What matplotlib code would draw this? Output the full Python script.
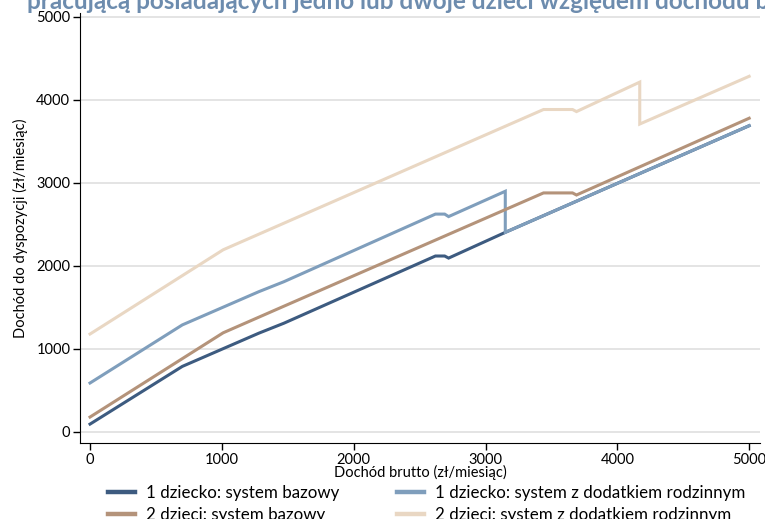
import matplotlib
matplotlib.use("Agg")
import matplotlib.pyplot as plt

plt.rcParams['font.family'] = ['Lato', 'DejaVu Sans']

# gross income (zl/month) vs disposable income
x_1b = [0, 700, 1280, 1470, 2620, 2690, 2720, 3150, 5000]
y_1b = [95, 790, 1190, 1310, 2120, 2120, 2095, 2405, 3690]

x_1d = [0, 700, 1280, 1470, 2620, 2690, 2720, 3150, 3150, 5000]
y_1d = [590, 1290, 1690, 1810, 2625, 2625, 2595, 2900, 2405, 3690]

x_2b = [0, 1010, 1440, 3440, 3660, 3690, 5000]
y_2b = [180, 1195, 1494, 2880, 2880, 2855, 3780]

x_2d = [0, 1010, 1440, 3440, 3660, 3690, 4170, 4170, 5000]
y_2d = [1180, 2195, 2494, 3885, 3885, 3860, 4215, 3710, 4285]

labels = ['1 dziecko: system bazowy',
          '1 dziecko: system z dodatkiem rodzinnym',
          '2 dzieci: system bazowy',
          '2 dzieci: system z dodatkiem rodzinnym']
colors = ['#3d5b80', '#7f9ebc', '#b4937a', '#e9d7c3']

fig = plt.figure(figsize=(7.65, 5.19), dpi=100)
ax = fig.add_axes([0.1046, 0.1464, 0.889, 0.8286])

series = [(x_1b, y_1b), (x_1d, y_1d), (x_2b, y_2b), (x_2d, y_2d)]
lines = []
for (xs, ys), lab, c in zip(series, labels, colors):
    ln, = ax.plot(xs, ys, color=c, lw=2.2, label=lab, solid_joinstyle='miter')
    lines.append(ln)

ax.set_xlim(-76, 5083)
ax.set_ylim(-133, 5048)
ax.set_xticks([0, 1000, 2000, 3000, 4000, 5000])
ax.set_yticks([0, 1000, 2000, 3000, 4000, 5000])
ax.yaxis.grid(True, color='#e4e4e4', lw=1.4)
ax.set_axisbelow(True)
for s in ['top', 'right']:
    ax.spines[s].set_visible(False)
ax.tick_params(length=5, width=1, labelsize=10.5, pad=2)

ax.set_xlabel('Dochód brutto (zł/miesiąc)', fontsize=10.5, labelpad=-1)
ax.set_ylabel('Dochód do dyspozycji (zł/miesiąc)', fontsize=10.5, labelpad=6)

fig.text(0.035, 0.983, 'pracującą posiadających jedno lub dwoje dzieci względem dochodu brutto',
         fontsize=17.5, fontweight='bold', color='#6d8cae', va='baseline', ha='left')

# column-wise fill: 1b, 2b in first column, 1d, 2d in second
order = [0, 2, 1, 3]
leg = ax.legend([lines[i] for i in order], [labels[i] for i in order],
                loc='upper center', bbox_to_anchor=(0.51, -0.07), ncol=2, frameon=False,
                fontsize=12.2, handlelength=1.6, columnspacing=3.4, handletextpad=0.65,
                labelspacing=0.38, borderpad=0.2)
for h in leg.legend_handles:
    h.set_linewidth(3.2)

fig.savefig('out.png', dpi=100)
